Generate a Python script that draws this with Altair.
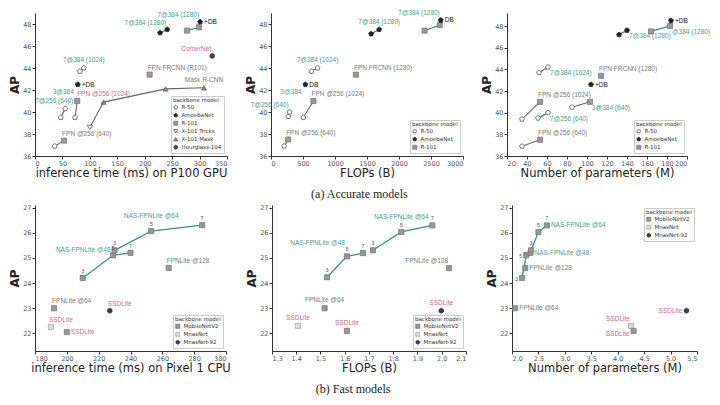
import altair as alt
import pandas as pd

TEAL = "#3f8f7f"
TEAL_T = "#4a9e8c"
GRAY_T = "#7a7a7a"
PINK = "#d0678a"

# ---------------- (a) accurate models ----------------
# panel a1: inference time (ms) on P100 GPU
a1_x = [36, 53, 47, 55, 73, 77, 78, 82, 89, 100, 125, 238, 308, 209, 323, 228, 241, 277, 299, 301]
a1_ap = [36.9, 37.4, 39.5, 40.3, 39.5, 41.0, 42.5, 43.7, 44.0, 38.6, 40.9, 42.1, 42.2, 43.4, 45.1,
         47.2, 47.5, 47.4, 47.7, 48.2]
a1_bb = ["R-50", "R-101", "R-50", "R-50", "R-50", "R-101", "AmoebaNet", "R-50", "R-50",
         "X-101 Tricks", "X-101 Mask", "X-101 Mask", "X-101 Mask", "R-101", "Hourglass-104",
         "AmoebaNet", "AmoebaNet", "R-101", "R-101", "AmoebaNet"]
a1_grp = ["g1", "g1", "n1", "n1", "g2", "g2", "", "n2", "n2", "g3", "g3", "g3", "g3", "", "",
          "n3", "n3", "n4", "n4", "n4"]
a1_lab = [(1, "FPN @256 (640)", "ar", "g"), (5, "7@256 (640)", "l", "t"),
          (6, "+DB", "r", "k"), (6, "3@384", "lb", "t"), (8, "7@384 (1024)", "a", "t"),
          (10, "FPN @256 (1024)", "a", "p"), (12, "Mask R-CNN", "a", "g"),
          (13, "FPN FRCNN (R101)", "ar", "g"), (14, "CornerNet", "al", "p"),
          (16, "7@384 (1280)", "al", "t"), (19, "7@384 (1280)", "al", "t"),
          (19, "+DB", "r", "k")]

# panel a2: FLOPs (B)
a2_x = [205, 268, 270, 290, 505, 663, 537, 632, 727, 1327, 1564, 1690, 2400, 2637, 2653]
a2_ap = [36.9, 37.5, 39.6, 40.0, 39.5, 41.0, 42.5, 43.7, 44.0, 43.4, 47.1, 47.5, 47.4, 47.9, 48.35]
a2_bb = ["R-50", "R-101", "R-50", "R-50", "R-50", "R-101", "AmoebaNet", "R-50", "R-50", "R-101",
         "AmoebaNet", "AmoebaNet", "R-101", "R-101", "AmoebaNet"]
a2_grp = ["g1", "g1", "n1", "n1", "g2", "g2", "", "n2", "n2", "", "n3", "n3", "n4", "n4", "n4"]
a2_lab = [(1, "FPN @256 (640)", "ar", "g"), (3, "7@256 (640)", "al", "t"),
          (5, "FPN @256 (1024)", "ar", "g"), (6, "DB", "r", "k"), (6, "3@384", "lb", "t"),
          (8, "7@384 (1024)", "a", "t"), (9, "FPN FRCNN (1280)", "ar", "g"),
          (11, "7@384 (1280)", "a", "t"), (14, "7@384 (1280)", "al", "t"),
          (14, "DB", "r", "k")]

# panel a3: number of parameters (M)
a3_x = [35, 53, 35, 53, 51, 61, 52, 61, 85, 103, 104, 114, 132, 140, 164, 183, 184]
a3_ap = [36.9, 37.5, 39.4, 41.0, 39.5, 40.0, 43.7, 44.2, 40.5, 41.0, 42.6, 43.4, 47.2, 47.6,
         47.5, 48.0, 48.5]
a3_bb = ["R-50", "R-101", "R-50", "R-101", "R-50", "R-50", "R-50", "R-50", "R-50", "R-101",
         "AmoebaNet", "R-101", "AmoebaNet", "AmoebaNet", "R-101", "R-101", "AmoebaNet"]
a3_grp = ["g1", "g1", "g2", "g2", "n1", "n1", "n2", "n2", "g3", "g3", "", "", "n3", "n3",
          "n4", "n4", "n4"]
a3_lab = [(1, "FPN @256 (640)", "ar", "g"), (3, "FPN @256 (1024)", "ar", "g"),
          (5, "7@256 (640)", "br", "t"), (7, "7@384 (1024)", "br", "t"),
          (9, "3@384 (640)", "br", "t"), (10, "+DB", "r", "k"),
          (11, "FPN FRCNN (1280)", "ar", "g"), (13, "7@384 (1280)", "br", "t"),
          (15, "@384 (1280)", "br", "t"), (16, "+DB", "r", "k")]

# ---------------- (b) fast models ----------------
b_bb = ["MobileNetV2"] * 8 + ["MnasNet-92", "MnasNet", "MobileNetV2"]
b_grp = ["n1", "n1", "n1", "n2", "n2", "n2", "", "", "", "", ""]
b_num = ["3", "5", "7", "3", "5", "7", "", "", "", "", ""]
# panel b1: inference time (ms) on Pixel 1 CPU
b1_x = [210, 229, 240, 230, 253, 285, 264, 192, 227, 190, 200]
b1_ap = [24.2, 25.1, 25.2, 25.3, 26.06, 26.3, 24.6, 23.0, 22.9, 22.25, 22.05]
b1_lab = [(3, "NAS-FPNLite @48", "l", "t"), (4, "NAS-FPNLite @64", "aa", "t"),
          (6, "FPNLite @128", "ar", "g"), (7, "FPNLite @64", "ar", "g"),
          (8, "SSDLite", "ar", "p"), (9, "SSDLite", "ar", "p"), (10, "SSDLite", "r", "p")]
# panel b2: FLOPs (B)
b2_x = [1.527, 1.609, 1.675, 1.716, 1.833, 1.961, 2.03, 1.517, 1.998, 1.407, 1.609]
b2_ap = [24.23, 25.06, 25.19, 25.3, 26.03, 26.29, 24.59, 23.0, 22.9, 22.3, 22.1]
b2_lab = [(1, "NAS-FPNLite @48", "aal", "t"), (4, "NAS-FPNLite @64", "aa", "t"),
          (6, "FPNLite @128", "al", "g"), (7, "FPNLite @64", "a", "g"),
          (8, "SSDLite", "a", "p"), (9, "SSDLite", "a", "p"), (10, "SSDLite", "a", "p")]
# panel b3: number of parameters (M)
b3_x = [2.19, 2.27, 2.35, 2.36, 2.50, 2.66, 2.25, 2.06, 5.30, 4.25, 4.30]
b3_ap = [24.2, 25.1, 25.2, 25.3, 26.03, 26.29, 24.6, 23.0, 22.9, 22.3, 22.1]
b3_lab = [(2, "NAS-FPNLite @48", "r", "t"), (5, "NAS-FPNLite @64", "r", "t"),
          (6, "FPNLite @128", "r", "g"), (7, "FPNLite @64", "r", "g"),
          (8, "SSDLite", "l", "p"), (9, "SSDLite", "al", "p"), (10, "SSDLite", "bl", "p")]

# ---------------- styling ----------------
PENT = "M0,-1L0.951,-0.309L0.588,0.809L-0.588,0.809L-0.951,-0.309Z"
HEX = "M0,-1L0.866,-0.5L0.866,0.5L0,1L-0.866,0.5L-0.866,-0.5Z"
STYLE = {
    "R-50": (PENT, "white", "#555555"),
    "AmoebaNet": (PENT, "#222222", "#222222"),
    "R-101": ("square", "#9a9a9a", "#777777"),
    "X-101 Tricks": ("triangle-down", "white", "#555555"),
    "X-101 Mask": ("triangle-up", "#888888", "#666666"),
    "Hourglass-104": (HEX, "#444444", "#333333"),
    "MobileNetV2": ("square", "#999999", "#777777"),
    "MnasNet": ("square", "#dddddd", "#aaaaaa"),
    "MnasNet-92": (HEX, "#3a3a4a", "#333333"),
}
PLACE = {
    "r": dict(dx=4, dy=0, align="left", baseline="middle"),
    "l": dict(dx=-4, dy=0, align="right", baseline="middle"),
    "lb": dict(dx=-4, dy=7, align="right", baseline="middle"),
    "bl": dict(dx=-4, dy=3, align="right", baseline="middle"),
    "ar": dict(dx=-2, dy=-4, align="left", baseline="bottom"),
    "al": dict(dx=-1, dy=-4, align="right", baseline="bottom"),
    "aal": dict(dx=-2, dy=-10, align="right", baseline="bottom"),
    "a": dict(dx=0, dy=-5, align="center", baseline="bottom"),
    "aa": dict(dx=0, dy=-12, align="center", baseline="bottom"),
    "br": dict(dx=2, dy=3, align="left", baseline="top"),
}
NUMPLACE = {
    "a": dict(dx=0, dy=-4, align="center", baseline="bottom"),
    "l": dict(dx=-4, dy=1, align="right", baseline="middle"),
}
# where the small repeat numbers sit, per panel
B_NP_ABOVE = ["a"] * 11
B3_NP = ["l", "l", "l", "a", "a", "a", "", "", "", "", ""]
FONT = "DejaVu Sans"
LFONT = "Liberation Sans"


def panel(xs, aps, bbs, grps, labs, nums, nps, bb_dom, xdom, xvals, xfmt, ydom, yvals,
          xtitle, w, h, lorient):
    df = pd.DataFrame({"x": xs, "ap": aps, "bb": bbs, "grp": grps})
    df["order"] = range(len(df))
    X = alt.X("x:Q", scale=alt.Scale(domain=xdom, nice=False, zero=False),
              axis=alt.Axis(values=xvals, format=xfmt, title=xtitle))
    Y = alt.Y("ap:Q", scale=alt.Scale(domain=ydom, nice=False, zero=False),
              axis=alt.Axis(values=yvals, title="AP"))
    leg = alt.Legend(title="backbone model", orient=lorient, titleFontSize=5.5,
                     titleFontWeight="normal", labelFontSize=5.5, symbolSize=16,
                     symbolStrokeWidth=0.8, padding=2, rowPadding=0, strokeColor="#cccccc",
                     fillColor="white", offset=3, titlePadding=1, labelOffset=3,
                     labelFont=FONT, titleFont=FONT, titleColor="#333", labelColor="#333")
    shp = alt.Shape("bb:N", scale=alt.Scale(domain=bb_dom, range=[STYLE[b][0] for b in bb_dom]), legend=leg)
    fil = alt.Fill("bb:N", scale=alt.Scale(domain=bb_dom, range=[STYLE[b][1] for b in bb_dom]), legend=leg)
    stk = alt.Stroke("bb:N", scale=alt.Scale(domain=bb_dom, range=[STYLE[b][2] for b in bb_dom]), legend=leg)
    layers = []
    layers.append(alt.Chart(df).transform_filter("indexof(datum.grp, 'g') == 0")
                  .mark_line(color="#666666", strokeWidth=1.1)
                  .encode(x=X, y=Y, detail="grp:N", order="order:Q"))
    layers.append(alt.Chart(df).transform_filter("indexof(datum.grp, 'n') == 0")
                  .mark_line(color=TEAL, strokeWidth=1.3)
                  .encode(x=X, y=Y, detail="grp:N", order="order:Q"))
    layers.append(alt.Chart(df).mark_point(filled=True, size=26, strokeWidth=0.8, opacity=1)
                  .encode(x=X, y=Y, shape=shp, fill=fil, stroke=stk))
    if nums:
        ndf = pd.DataFrame({"x": xs, "ap": aps, "num": nums, "np": nps})
        ndf = ndf[ndf["num"] != ""]
        for k, spec in NUMPLACE.items():
            if (ndf["np"] == k).any():
                layers.append(alt.Chart(ndf).transform_filter(alt.datum.np == k)
                              .mark_text(fontSize=5.5, color="#555", font=LFONT, **spec)
                              .encode(x=X, y=Y, text="num:N"))
    ldf = pd.DataFrame([{"x": xs[i], "ap": aps[i], "text": t, "place": p, "col": c}
                        for (i, t, p, c) in labs])
    for p in PLACE:
        if (ldf["place"] == p).any():
            layers.append(alt.Chart(ldf).transform_filter(alt.datum.place == p)
                          .mark_text(fontSize=6.5, font=LFONT, **PLACE[p])
                          .encode(x=X, y=Y, text="text:N",
                                  color=alt.Color("col:N", scale=alt.Scale(
                                      domain=["t", "g", "p", "k"],
                                      range=[TEAL_T, GRAY_T, PINK, "#111111"]), legend=None)))
    return alt.layer(*layers).properties(width=w, height=h)


A_DOM6 = ["R-50", "AmoebaNet", "R-101", "X-101 Tricks", "X-101 Mask", "Hourglass-104"]
A_DOM3 = ["R-50", "AmoebaNet", "R-101"]
B_DOM = ["MobileNetV2", "MnasNet", "MnasNet-92"]
AY = [36, 38, 40, 42, 44, 46, 48]
BY = [22, 23, 24, 25, 26, 27]

pa1 = panel(a1_x, a1_ap, a1_bb, a1_grp, a1_lab, None, None, A_DOM6, [0, 350], list(range(0, 351, 50)), "d",
            [36, 49], AY, "inference time (ms) on P100 GPU", 192, 143, "bottom-right")
pa2 = panel(a2_x, a2_ap, a2_bb, a2_grp, a2_lab, None, None, A_DOM3, [0, 3000], list(range(0, 3001, 500)), "d",
            [36, 49], AY, "FLOPs (B)", 192, 143, "bottom-right")
pa3 = panel(a3_x, a3_ap, a3_bb, a3_grp, a3_lab, None, None, A_DOM3, [20, 200], list(range(20, 201, 20)), "d",
            [36, 49.2], AY, "Number of parameters (M)", 180, 143, "bottom-right")

pb1 = panel(b1_x, b1_ap, b_bb, b_grp, b1_lab, b_num, B_NP_ABOVE, B_DOM, [180, 300],
            list(range(180, 301, 20)), "d",
            [21.3, 27.1], BY, "inference time (ms) on Pixel 1 CPU", 191, 146, "bottom-right")
pb2 = panel(b2_x, b2_ap, b_bb, b_grp, b2_lab, b_num, B_NP_ABOVE, B_DOM, [1.3, 2.1],
            [1.3, 1.4, 1.5, 1.6, 1.7, 1.8, 1.9, 2.0, 2.1], ".1f",
            [21.3, 27.1], BY, "FLOPs (B)", 194, 146, "bottom-right")
pb3 = panel(b3_x, b3_ap, b_bb, b_grp, b3_lab, b_num, B3_NP, B_DOM, [2.0, 5.5],
            [2.0, 2.5, 3.0, 3.5, 4.0, 4.5, 5.0, 5.5], ".1f",
            [21.3, 27.1], BY, "Number of parameters (M)", 185, 146, "top-right")

RES = dict(shape="independent", fill="independent", stroke="independent", color="independent")


def cap(text, off):
    return alt.TitleParams(text, orient="bottom", anchor="middle", font="Liberation Serif",
                           fontSize=12, fontWeight="normal", color="#222", offset=off)


row_a = alt.hconcat(pa1, pa2, pa3, spacing=44, bounds="flush",
                    title=cap("(a) Accurate models", 10)).resolve_scale(**RES)
row_b = alt.hconcat(pb1, pb2, pb3, spacing=46, bounds="flush",
                    title=cap("(b) Fast models", 10)).resolve_scale(**RES)

chart = alt.vconcat(row_a, row_b, spacing=4).resolve_scale(**RES).properties(
    padding={"left": 0, "right": 0, "top": 2, "bottom": 0}
).configure_view(stroke=None).configure_axis(
    grid=False, domainColor="#333", tickColor="#333", tickSize=3, labelFontSize=6.5,
    labelColor="#555", titleFontSize=11.5, titleFontWeight="normal", titleColor="#222",
    labelFont=FONT, titleFont=FONT, titlePadding=1, labelPadding=1
).configure_axisY(titleFontWeight="bold", titleFontSize=12, titlePadding=1)

chart.save("out.html", embed_options={"renderer": "svg", "actions": False})
